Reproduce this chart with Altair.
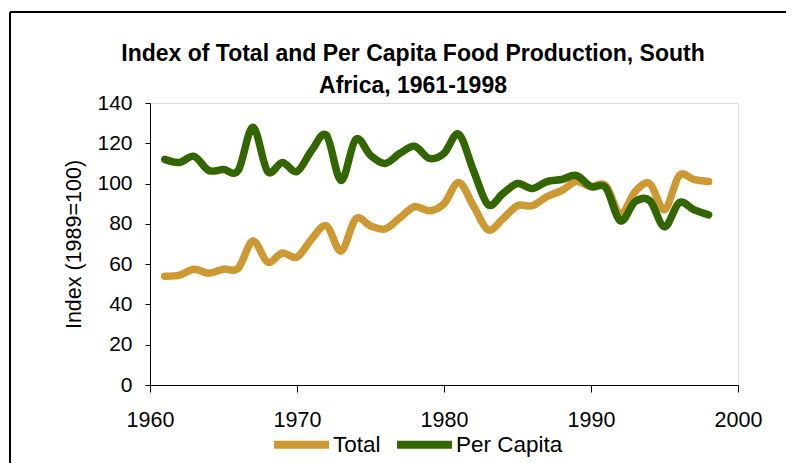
import altair as alt
import pandas as pd

years = list(range(1961, 1999))
total = [54, 54.5, 57.5, 55.5, 57.5, 58, 71.5, 61, 65.5, 63.5,
         72.5, 79, 66.5, 82.5, 79, 77.5, 83, 88.5, 86.5, 90,
         100.5, 89, 77, 82.5, 89, 89, 93.5, 96.5, 101, 98.5,
         99, 85, 96, 100, 87, 104, 102, 101]
per_capita = [112, 110.5, 113.5, 106.5, 107, 106.5, 128, 106, 110.5, 106,
              116.5, 124, 101.5, 122, 114, 110, 115, 118.5, 112.5, 115,
              124.5, 106.5, 89.5, 95, 100, 97.5, 101, 102, 104, 98.5,
              98, 81.5, 91, 91.5, 78.5, 90.5, 87, 84.5]
series_names = ["Total", "Per Capita"]
series_colors = ["#CC9933", "#336600"]
x_ticks = [1960, 1970, 1980, 1990, 2000]
y_ticks = [0, 20, 40, 60, 80, 100, 120, 140]

df = pd.DataFrame({
    "Year": years * 2,
    "Index": total + per_capita,
    "Series": [series_names[0]] * len(years) + [series_names[1]] * len(years),
})

FONT = "Liberation Sans"

color = alt.Color(
    "Series:N",
    scale=alt.Scale(domain=series_names, range=series_colors),
    legend=alt.Legend(
        title=None,
        orient="none",
        legendX=120,
        legendY=310,
        direction="horizontal",
        symbolType="stroke",
        symbolSize=3025,
        symbolStrokeWidth=8,
        labelFont=FONT,
        labelFontSize=22.5,
        labelColor="black",
        labelOffset=0,
        columnPadding=0,
    ),
)

base = alt.Chart(df).mark_line(
    strokeWidth=7.5, interpolate="cardinal", strokeCap="round", strokeJoin="round"
).encode(
    x=alt.X("Year:Q", scale=alt.Scale(domain=[1960, 2000], nice=False),
            axis=alt.Axis(values=x_ticks, format="d", title=None, grid=False,
                          tickSize=7, labelPadding=17, labelFontSize=21.5,
                          labelFlush=False,
                          labelFont=FONT, labelColor="black", domainColor="black",
                          tickColor="black")),
    y=alt.Y("Index:Q", scale=alt.Scale(domain=[0, 140], nice=False),
            axis=alt.Axis(values=y_ticks, title="Index (1989=100)", grid=False,
                          tickSize=5, labelPadding=13, labelFontSize=21,
                          labelFont=FONT, labelColor="black", domainColor="black",
                          tickColor="black", titleFont=FONT, titleFontSize=21.5,
                          titleFontWeight="normal", titleColor="black",
                          titlePadding=11)),
    color=color,
)

tot = base.transform_filter(alt.datum.Series == series_names[0])
pc = base.transform_filter(alt.datum.Series == series_names[1])

frame_df = pd.DataFrame({"k": [0]})
top_border = alt.Chart(frame_df).mark_rule(color="black", strokeWidth=2).encode(
    x=alt.value(-140), x2=alt.value(900), y=alt.value(-91))
left_border = alt.Chart(frame_df).mark_rule(color="black", strokeWidth=2).encode(
    x=alt.value(-140), y=alt.value(-91), y2=alt.value(600))

chart = alt.layer(top_border, left_border, tot, pc).properties(
    width=588,
    height=282,
    autosize=alt.AutoSizeParams(type="none"),
    padding={"left": 142, "top": 95, "right": 48, "bottom": 78},
    title=alt.TitleParams(
        text=["Index of Total and Per Capita Food Production, South",
              "Africa, 1961-1998"],
        font=FONT, fontSize=23, fontWeight="bold", color="black",
        anchor="middle", dx=-31, dy=87, lineHeight=32, offset=0,
    ),
).configure_view(stroke=None).configure(background="white")

chart.save("out.html", embed_options={"renderer": "svg", "actions": False})
